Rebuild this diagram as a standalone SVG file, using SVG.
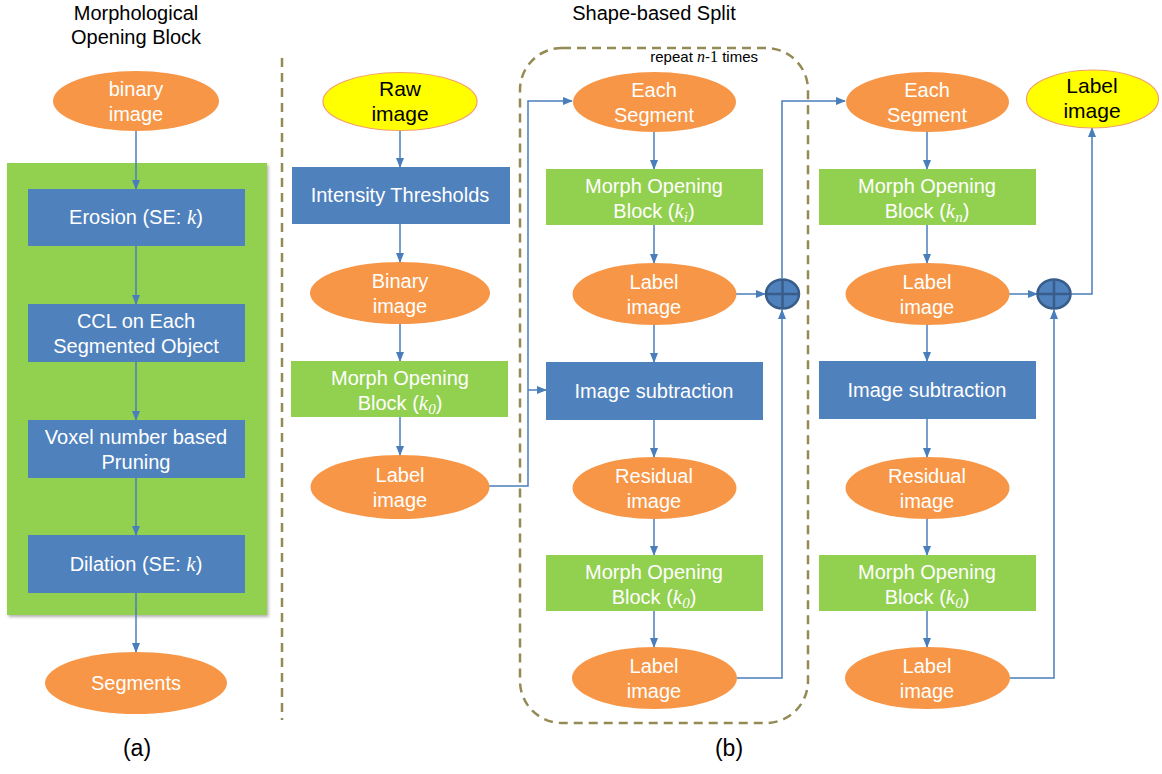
<svg xmlns="http://www.w3.org/2000/svg" width="1162" height="774" viewBox="0 0 1162 774">
<defs>
<marker id="arr" markerWidth="10" markerHeight="8" refX="9" refY="4" orient="auto" markerUnits="userSpaceOnUse">
<path d="M0,0 L10,4 L0,8 Z" fill="#4A7EBB"/>
</marker>
<filter id="sh" x="-5%" y="-5%" width="110%" height="110%">
<feDropShadow dx="1.5" dy="2" stdDeviation="1.5" flood-color="#000" flood-opacity="0.3"/>
</filter>
<style>
.t{font-family:"Liberation Sans",Arial,sans-serif;font-size:20px;fill:#fff;text-anchor:middle}
.tb{font-family:"Liberation Sans",Arial,sans-serif;font-size:21px;fill:#000;text-anchor:middle}
.ti{font-family:"Liberation Sans",Arial,sans-serif;font-size:20px;fill:#000;text-anchor:middle}
.k{font-family:"Liberation Serif","Times New Roman",serif;font-style:italic}
.ell{fill:#F79646}
.yel{fill:#FFFF00;stroke:#F2A06A;stroke-width:1.2}
.blue{fill:#4F81BD}
.green{fill:#92D050}
.ca{fill:none;stroke:#4A7EBB;stroke-width:1.5;marker-end:url(#arr)}
.dash{fill:none;stroke:#948A54;stroke-width:2.5;stroke-dasharray:9 6}
.plus{fill:#4F81BD;stroke:#385D8A;stroke-width:2.5}
.pl{stroke:#385D8A;stroke-width:2.5}
</style>
</defs>

<!-- titles -->
<text class="ti" x="136" y="20">Morphological</text>
<text class="ti" x="136" y="44">Opening Block</text>
<text class="ti" x="654" y="20">Shape-based Split</text>
<text class="ti" x="137" y="756" style="font-size:23px">(a)</text>
<text class="ti" x="729" y="756" style="font-size:23px">(b)</text>

<!-- separators / loop box -->
<line class="dash" x1="282" y1="58" x2="282" y2="720"/>
<rect class="dash" x="520" y="48" width="288" height="675" rx="42" ry="42"/>
<text x="758" y="62" style="font-family:'Liberation Sans',Arial,sans-serif;font-size:15px;fill:#000;text-anchor:end">repeat <tspan class="k" style="font-size:16px">n</tspan>-<tspan style="font-family:'Liberation Serif','Times New Roman',serif;font-size:16px">1</tspan> times</text>

<!-- Left panel -->
<g id="panel-a">
<rect class="green" x="7" y="163" width="260" height="452" filter="url(#sh)"/>
</g>

<g id="connectors">
<!-- left -->
<line class="ca" x1="136" y1="131" x2="136" y2="189"/>
<line class="ca" x1="136" y1="246" x2="136" y2="304"/>
<line class="ca" x1="136" y1="362" x2="136" y2="420"/>
<line class="ca" x1="136" y1="478" x2="136" y2="535"/>
<line class="ca" x1="136" y1="593" x2="136" y2="652"/>
<!-- col1 -->
<line class="ca" x1="400" y1="130" x2="400" y2="167"/>
<line class="ca" x1="400" y1="224" x2="400" y2="262"/>
<line class="ca" x1="400" y1="324" x2="400" y2="361"/>
<line class="ca" x1="400" y1="417" x2="400" y2="455"/>
<polyline class="ca" points="489,486 528,486 528,101 572,101"/>
<line class="ca" x1="528" y1="390" x2="546" y2="390"/>
<!-- col2 -->
<line class="ca" x1="654" y1="132" x2="654" y2="169"/>
<line class="ca" x1="654" y1="225" x2="654" y2="263"/>
<line class="ca" x1="654" y1="325" x2="654" y2="362"/>
<line class="ca" x1="654" y1="420" x2="654" y2="457"/>
<line class="ca" x1="654" y1="519" x2="654" y2="555"/>
<line class="ca" x1="654" y1="611" x2="654" y2="647"/>
<line class="ca" x1="736" y1="294" x2="765" y2="294"/>
<polyline class="ca" points="737,678 782,678 782,310"/>
<polyline class="ca" points="782,278 782,101 845,101"/>
<!-- col3 -->
<line class="ca" x1="927" y1="132" x2="927" y2="169"/>
<line class="ca" x1="927" y1="225" x2="927" y2="263"/>
<line class="ca" x1="927" y1="325" x2="927" y2="361"/>
<line class="ca" x1="927" y1="419" x2="927" y2="457"/>
<line class="ca" x1="927" y1="519" x2="927" y2="555"/>
<line class="ca" x1="927" y1="611" x2="927" y2="647"/>
<line class="ca" x1="1009" y1="294" x2="1037" y2="294"/>
<polyline class="ca" points="1010,678 1054,678 1054,310"/>
<polyline class="ca" points="1071,294 1092,294 1092,128"/>
</g>

<!-- Left nodes -->
<g id="a-binary"><ellipse class="ell" cx="136" cy="101" rx="83" ry="30"/><text class="t" x="136" y="96">binary</text><text class="t" x="136" y="121">image</text></g>
<g id="a-erosion"><rect class="blue" x="28" y="189" width="217" height="57"/><text class="t" x="136" y="224">Erosion (SE: <tspan class="k" style="font-size:21px">k</tspan>)</text></g>
<g id="a-ccl"><rect class="blue" x="28" y="304" width="217" height="58"/><text class="t" x="136" y="328">CCL on Each</text><text class="t" x="136" y="353">Segmented Object</text></g>
<g id="a-voxel"><rect class="blue" x="28" y="420" width="217" height="58"/><text class="t" x="136" y="444">Voxel number based</text><text class="t" x="136" y="469">Pruning</text></g>
<g id="a-dilation"><rect class="blue" x="28" y="535" width="217" height="58"/><text class="t" x="136" y="571">Dilation (SE: <tspan class="k" style="font-size:21px">k</tspan>)</text></g>
<g id="a-segments"><ellipse class="ell" cx="136" cy="683" rx="91" ry="31"/><text class="t" x="136" y="690">Segments</text></g>

<!-- Column 1 -->
<g id="raw"><ellipse class="yel" cx="400" cy="101.5" rx="77" ry="29"/><text class="tb" x="400" y="96">Raw</text><text class="tb" x="400" y="121">image</text></g>
<g id="thresh"><rect class="blue" x="292" y="167" width="218" height="57"/><text class="t" x="400" y="202">Intensity Thresholds</text></g>
<g id="binary1"><ellipse class="ell" cx="400" cy="293" rx="90" ry="31"/><text class="t" x="400" y="288">Binary</text><text class="t" x="400" y="313">image</text></g>
<g id="morph1"><rect class="green" x="291" y="361" width="217" height="56"/><text class="t" x="400" y="385">Morph Opening</text><text class="t" x="400" y="410">Block (<tspan class="k" style="font-size:21px">k</tspan><tspan class="k" style="font-size:15px" dy="4">0</tspan><tspan dy="-4">)</tspan></text></g>
<g id="label1"><ellipse class="ell" cx="400" cy="487" rx="89.5" ry="32"/><text class="t" x="400" y="482">Label</text><text class="t" x="400" y="507">image</text></g>

<!-- Column 2 -->
<g id="each2"><ellipse class="ell" cx="654.5" cy="102" rx="81.5" ry="30"/><text class="t" x="654" y="97">Each</text><text class="t" x="654" y="122">Segment</text></g>
<g id="morph2i"><rect class="green" x="546" y="169" width="217" height="56"/><text class="t" x="654" y="193">Morph Opening</text><text class="t" x="654" y="218">Block (<tspan class="k" style="font-size:21px">k</tspan><tspan class="k" style="font-size:15px" dy="4">i</tspan><tspan dy="-4">)</tspan></text></g>
<g id="label2a"><ellipse class="ell" cx="654.5" cy="294" rx="82" ry="31"/><text class="t" x="654" y="289">Label</text><text class="t" x="654" y="314">image</text></g>
<g id="plus2"><ellipse class="plus" cx="782.5" cy="294" rx="16.5" ry="14.5"/><line class="pl" x1="766" y1="294" x2="799" y2="294"/><line class="pl" x1="782.5" y1="279.5" x2="782.5" y2="308.5"/></g>
<g id="sub2"><rect class="blue" x="546" y="362" width="217" height="58"/><text class="t" x="654" y="398">Image subtraction</text></g>
<g id="resid2"><ellipse class="ell" cx="654.5" cy="488" rx="82" ry="31"/><text class="t" x="654" y="483">Residual</text><text class="t" x="654" y="508">image</text></g>
<g id="morph2o"><rect class="green" x="546" y="555" width="217" height="56"/><text class="t" x="654" y="579">Morph Opening</text><text class="t" x="654" y="604">Block (<tspan class="k" style="font-size:21px">k</tspan><tspan class="k" style="font-size:15px" dy="4">0</tspan><tspan dy="-4">)</tspan></text></g>
<g id="label2b"><ellipse class="ell" cx="654.5" cy="678" rx="82.5" ry="31"/><text class="t" x="654" y="673">Label</text><text class="t" x="654" y="698">image</text></g>

<!-- Column 3 -->
<g id="each3"><ellipse class="ell" cx="927.5" cy="102" rx="81.5" ry="30"/><text class="t" x="927" y="97">Each</text><text class="t" x="927" y="122">Segment</text></g>
<g id="morph3n"><rect class="green" x="819" y="169" width="217" height="56"/><text class="t" x="927" y="193">Morph Opening</text><text class="t" x="927" y="218">Block (<tspan class="k" style="font-size:21px">k</tspan><tspan class="k" style="font-size:15px" dy="4">n</tspan><tspan dy="-4">)</tspan></text></g>
<g id="label3a"><ellipse class="ell" cx="927.5" cy="294" rx="82" ry="31"/><text class="t" x="927" y="289">Label</text><text class="t" x="927" y="314">image</text></g>
<g id="plus3"><ellipse class="plus" cx="1054" cy="294" rx="16.5" ry="14.5"/><line class="pl" x1="1037.5" y1="294" x2="1070.5" y2="294"/><line class="pl" x1="1054" y1="279.5" x2="1054" y2="308.5"/></g>
<g id="sub3"><rect class="blue" x="819" y="361" width="217" height="58"/><text class="t" x="927" y="397">Image subtraction</text></g>
<g id="resid3"><ellipse class="ell" cx="927.5" cy="488" rx="82" ry="31"/><text class="t" x="927" y="483">Residual</text><text class="t" x="927" y="508">image</text></g>
<g id="morph3o"><rect class="green" x="819" y="555" width="217" height="56"/><text class="t" x="927" y="579">Morph Opening</text><text class="t" x="927" y="604">Block (<tspan class="k" style="font-size:21px">k</tspan><tspan class="k" style="font-size:15px" dy="4">0</tspan><tspan dy="-4">)</tspan></text></g>
<g id="label3b"><ellipse class="ell" cx="927.5" cy="678" rx="82.5" ry="31"/><text class="t" x="927" y="673">Label</text><text class="t" x="927" y="698">image</text></g>

<g id="labelout"><ellipse class="yel" cx="1092.5" cy="99" rx="66" ry="29"/><text class="tb" x="1092" y="93">Label</text><text class="tb" x="1092" y="118">image</text></g>
</svg>
